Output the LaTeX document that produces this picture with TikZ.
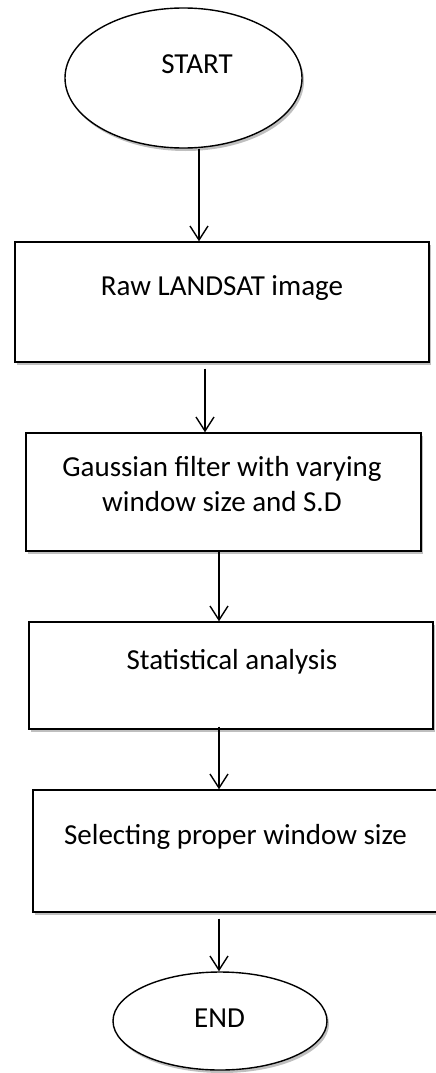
\documentclass[tikz,border=0pt]{standalone}
\usepackage{fontspec}
\setmainfont{Carlito}
\usetikzlibrary{shapes.geometric,arrows.meta,shadows}
\begin{document}
\begin{tikzpicture}[x=1pt,y=-1pt,
  basicshape/.style={draw=black,line width=1.4pt,fill=white,inner sep=0pt,
    drop shadow={shadow xshift=2pt,shadow yshift=-3pt,opacity=0.25,fill=black}},
  boxshape/.style={basicshape,rectangle},
  ovalshape/.style={basicshape,ellipse},
  lbl/.style={font=\fontsize{29}{35}\selectfont,align=center,inner sep=0pt},
  arr/.style={line width=1.4pt,-{Straight Barb[length=14pt,width=18pt,line width=1.4pt]}}]
\useasboundingbox (0,0) rectangle (436,1073);
% nodes
\node[ovalshape,minimum width=237pt,minimum height=140pt] (start) at (183.5,78) {};
\node[lbl] (startt) at (197,64) {START};
\node[boxshape,minimum width=414pt,minimum height=120pt] (box1) at (222,302) {};
\node[lbl] (box1t) at (222,288) {Raw LANDSAT image};
\node[boxshape,minimum width=395pt,minimum height=118pt] (box2) at (223.5,492) {};
\node[lbl] (box2t) at (222,484.5) {Gaussian filter with varying\\window size and S.D};
\node[boxshape,minimum width=404pt,minimum height=107pt] (box3) at (231,675.5) {};
\node[lbl] (box3t) at (232,662) {Statistical analysis};
\node[boxshape,minimum width=412pt,minimum height=122pt] (box4) at (239,851) {};
\node[lbl] (box4t) at (235.5,837) {Selecting proper window size};
\node[ovalshape,minimum width=214pt,minimum height=98pt] (endn) at (220,1021) {};
\node[lbl] (endt) at (219.5,1018) {END};
% connector x positions
\coordinate (x1) at (199,0);
\coordinate (x2) at (205,0);
\coordinate (x3) at (219,0);
% connectors
\draw[arr] (start.south -| x1) -- (box1.north -| x1);
\draw[arr] ([yshift=-6pt]box1.south -| x2) -- (box2.north -| x2);
\draw[arr] (box2.south -| x3) -- (box3.north -| x3);
\draw[arr] ([yshift=3pt]box3.south -| x3) -- (box4.north -| x3);
\draw[arr] ([yshift=-6pt]box4.south -| x3) -- (endn.north -| x3);
\end{tikzpicture}
\end{document}
